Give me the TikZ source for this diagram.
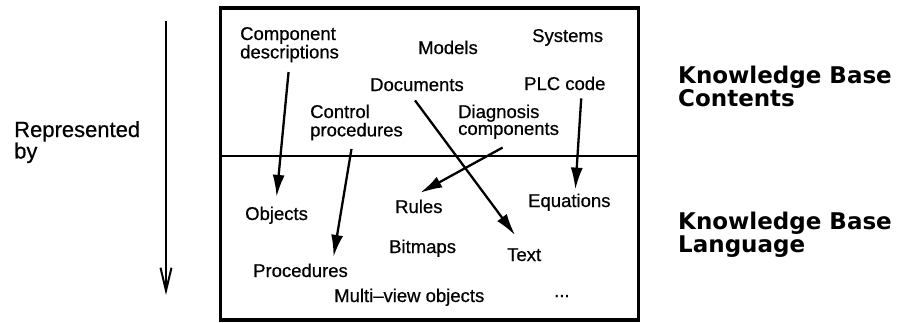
\documentclass[tikz,border=0pt]{standalone}
\usepackage{fontspec}
\setmainfont{Liberation Sans}[FakeBold=0.6]
\newfontfamily\kbfont{DejaVu Sans}
\usetikzlibrary{arrows.meta,calc}
\newcommand\mytwo[2]{\begin{tabular}[t]{@{}l@{}}#1\\#2\end{tabular}}
\begin{document}
\begin{tikzpicture}[x=1pt,y=-1pt,
  lbl/.style={inner sep=0pt, anchor=base west, font=\fontsize{18.5}{16.5}\selectfont},
  kb/.style={inner sep=0pt, anchor=base west, font=\kbfont\bfseries\fontsize{23}{21}\selectfont},
  side/.style={inner sep=0pt, anchor=base west, font=\fontsize{22}{18.5}\selectfont},
  arr/.style={line width=2.3pt, -{Latex[length=22pt,width=12pt]}},
  frame/.style={line width=3.5pt},
  divider/.style={line width=2.2pt},
  leftarr/.style={line width=2pt, -{Straight Barb[length=23pt,width=11pt]}}
]
\useasboundingbox (0,0) rectangle (898,322);

% frame
\coordinate (f1) at (220.5,8);
\coordinate (f2) at (638.5,320);
\draw[frame] (f1) rectangle (f2);
\coordinate (d1) at (220.5,156);
\coordinate (d2) at (638.5,156);
\draw[divider] (d1) -- (d2);

% left side
\node[side] (rb) at (14,137) {\mytwo{Represented}{by}};
\coordinate (la1) at (166,21);
\coordinate (la2) at (166,295);
\draw[leftarr] (la1) -- (la2);

% right side
\node[kb] (kbc) at (678,83) {\mytwo{Knowledge Base}{Contents}};
\node[kb] (kbl) at (678,229) {\mytwo{Knowledge Base}{Language}};

% contents
\node[lbl] (cd) at (240,40) {\mytwo{Component}{descriptions}};
\node[lbl] (mo) at (418,54) {Models};
\node[lbl] (sy) at (532,42) {Systems};
\node[lbl] (doc) at (370,91) {Documents};
\node[lbl] (plc) at (524,90) {PLC code};
\node[lbl] (cp) at (310,118) {\mytwo{Control}{procedures}};
\node[lbl] (dc) at (458,118) {\mytwo{Diagnosis}{components}};

% language
\node[lbl] (ob) at (245,220) {Objects};
\node[lbl] (ru) at (395,213) {Rules};
\node[lbl] (eq) at (528,207) {Equations};
\node[lbl] (bm) at (389,253) {Bitmaps};
\node[lbl] (tx) at (507,261) {Text};
\node[lbl] (pr) at (253,277) {Procedures};
\node[lbl] (mv) at (334,302) {Multi--view objects};
\node[lbl] (dots) at (554,297) {...};

% arrows
\draw[arr] ($(cd.south)+(-1,8.5)$) -- ($(ob.north)+(0,-9.5)$);
\draw[arr] ($(cp.south)+(-5,7.5)$) -- ($(pr.north)+(33,-6.5)$);
\draw[arr] ($(doc.south)+(-2,9)$) -- ($(tx.north)+(-9,-12.8)$);
\draw[arr] ($(dc.south)+(-6,7.5)$) -- ($(ru.north)+(1.4,-6.6)$);
\draw[arr] ($(plc.south)+(16.4,8)$) -- ($(eq.north)+(6,-3.8)$);
\end{tikzpicture}
\end{document}
